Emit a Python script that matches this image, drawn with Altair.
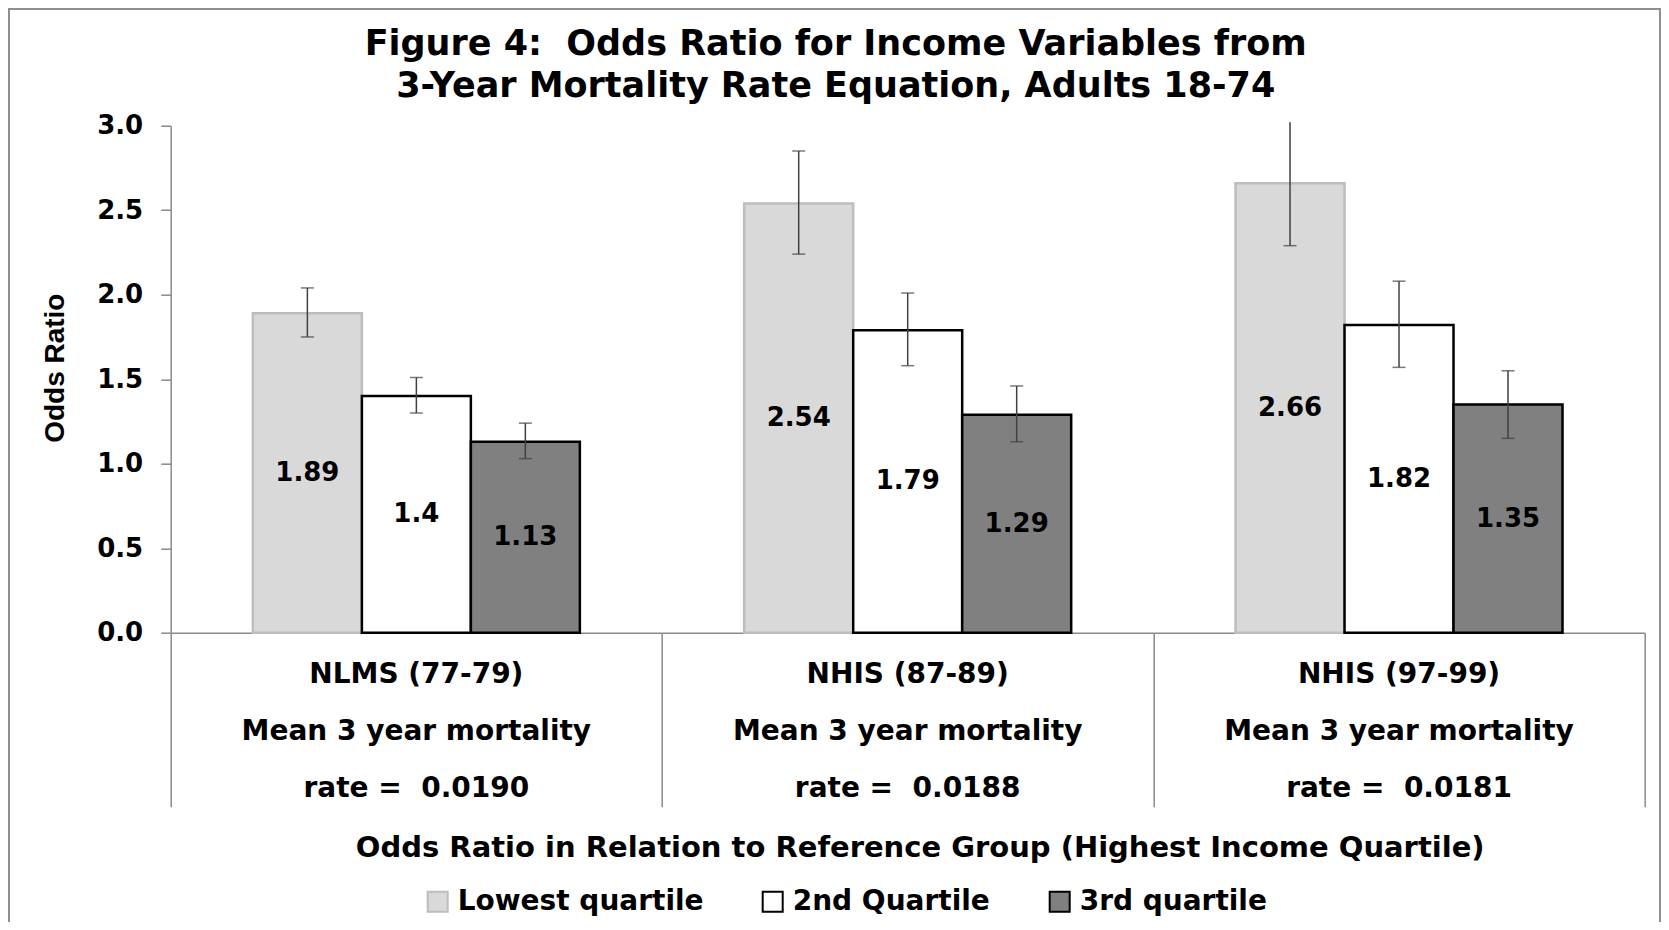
import altair as alt
import pandas as pd

# ---- data ----
NB = "\u00a0"
categories = ["NLMS (77-79)", "NHIS (87-89)", "NHIS (97-99)"]
line2 = ["Mean 3 year mortality", "Mean 3 year mortality", "Mean 3 year mortality"]
line3 = ["rate = " + NB + "0.0190", "rate = " + NB + "0.0188", "rate = " + NB + "0.0181"]
quartiles = ["Lowest quartile", "2nd Quartile", "3rd quartile"]

lowest = [1.89, 2.54, 2.66]
second = [1.40, 1.79, 1.82]
third = [1.13, 1.29, 1.35]

lowest_lo = [1.75, 2.24, 2.29]
lowest_hi = [2.04, 2.85, 3.02]
second_lo = [1.30, 1.58, 1.57]
second_hi = [1.51, 2.01, 2.08]
third_lo = [1.03, 1.13, 1.15]
third_hi = [1.24, 1.46, 1.55]

title_lines = ["Figure 4: " + NB + "Odds Ratio for Income Variables from",
               "3-Year Mortality Rate Equation, Adults 18-74"]
x_title = "Odds Ratio in Relation to Reference Group (Highest Income Quartile)"
y_title = "Odds Ratio"

# ---- tables ----
rows = []
for q, vals, los, his in [
    (quartiles[0], lowest, lowest_lo, lowest_hi),
    (quartiles[1], second, second_lo, second_hi),
    (quartiles[2], third, third_lo, third_hi),
]:
    for c, v, lo, hi in zip(categories, vals, los, his):
        rows.append({"cat": c, "q": q, "value": v, "lo": lo, "hi": hi})
df = pd.DataFrame(rows)
cat_df = pd.DataFrame({"cat": categories, "l2": line2, "l3": line3})

W, H = 1474, 507
FONT = "DejaVu Sans"

x_scale = alt.Scale(paddingInner=0, paddingOuter=0)
x_enc = alt.X("cat:N", sort=categories, scale=x_scale,
              axis=alt.Axis(labels=False, ticks=True, tickBand="extent", tickSize=174,
                            tickColor="#8a8a8a", tickWidth=1.5, domainColor="#8a8a8a",
                            domainWidth=1.5, title=x_title, titleFont=FONT,
                            titleFontWeight="bold", titleFontSize=29, titleColor="black",
                            titleX=749, titleY=224, titleBaseline="alphabetic",
                            titleAnchor="start", titleAlign="center"))
xo = alt.XOffset("q:N", sort=quartiles,
                 scale=alt.Scale(paddingInner=0, paddingOuter=0.754))
y_scale = alt.Scale(domain=[0, 3])
x_plain = alt.X("cat:N", sort=categories, scale=x_scale)

bars = alt.Chart(df).mark_bar(strokeWidth=2.5).encode(
    x=x_enc,
    xOffset=xo,
    y=alt.Y("value:Q", scale=y_scale,
            axis=alt.Axis(values=[0, 0.5, 1, 1.5, 2, 2.5, 3], format=".1f", grid=False,
                          labelFont=FONT, labelFontWeight="bold", labelFontSize=26,
                          labelColor="black", tickSize=10, labelPadding=18,
                          tickColor="#8a8a8a", tickWidth=1.5, domainColor="#8a8a8a",
                          domainWidth=1.5, title=y_title, titleFont="Liberation Sans",
                          titleFontWeight="bold", titleFontSize=28, titleColor="black",
                          titleAngle=270, titleX=-115.7, titleY=242, titleAlign="center",
                          titleBaseline="middle")),
    fill=alt.Fill("q:N", sort=quartiles,
                  scale=alt.Scale(domain=quartiles, range=["#d9d9d9", "#ffffff", "#808080"]),
                  legend=alt.Legend(title=None, orient="none", legendX=253, legendY=762,
                                    direction="horizontal", symbolType="square",
                                    symbolSize=400, symbolStrokeWidth=2, labelFont=FONT,
                                    labelFontWeight="bold", labelFontSize=28,
                                    labelColor="black", labelOffset=6, columnPadding=55,
                                    labelLimit=0, padding=0)),
    stroke=alt.Stroke("q:N", sort=quartiles,
                      scale=alt.Scale(domain=quartiles, range=["#bdbdbd", "#000000", "#000000"]),
                      legend=None),
)

err = alt.Chart(df).mark_rule(color="#404040", strokeWidth=1.5).encode(
    x=x_plain, xOffset=xo,
    y=alt.Y("lo:Q", scale=y_scale), y2="hi:Q")

cap_hi = alt.Chart(df).mark_tick(color="#404040", thickness=1.5, size=13, clip=True).encode(
    x=x_plain, xOffset=xo, y=alt.Y("hi:Q", scale=y_scale))
cap_lo = alt.Chart(df).mark_tick(color="#404040", thickness=1.5, size=13).encode(
    x=x_plain, xOffset=xo, y=alt.Y("lo:Q", scale=y_scale))

labels = alt.Chart(df).transform_calculate(mid="datum.value / 2").mark_text(
    font=FONT, fontWeight="bold", fontSize=26, color="black", baseline="middle").encode(
    x=x_plain, xOffset=xo,
    y=alt.Y("mid:Q", scale=y_scale), text="value:Q")

def cat_text(field, ypos):
    return alt.Chart(cat_df).mark_text(font=FONT, fontWeight="bold", fontSize=28,
                                       color="black", baseline="alphabetic").encode(
        x=x_plain, y=alt.value(ypos), text=f"{field}:N")

t1 = cat_text("cat", 557.6)
t2 = cat_text("l2", 614.3)
t3 = cat_text("l3", 671)

title_df = pd.DataFrame({"t": title_lines, "yy": [-70.7, -29]})
title = alt.Chart(title_df).mark_text(font=FONT, fontWeight="bold", fontSize=35,
                                      color="black", baseline="alphabetic").encode(
    x=alt.value(665), y=alt.Y("yy:Q", scale=None), text="t:N")

frame = alt.Chart(pd.DataFrame({"f": [0]})).mark_rect(
    fillOpacity=0, stroke="#8f8f8f", strokeWidth=2).encode(
    x=alt.value(-161.7), x2=alt.value(1489.3), y=alt.value(-116.7), y2=alt.value(900))

chart = alt.layer(frame, bars, err, cap_hi, cap_lo, labels, t1, t2, t3, title).properties(
    width=W, height=H,
    autosize=alt.AutoSizeParams(type="none"),
    padding={"left": 162.7, "top": 117.7, "right": 16, "bottom": 289},
    background="white",
).configure_view(stroke=None)

chart.save("out.html", embed_options={"renderer": "svg", "actions": False})
